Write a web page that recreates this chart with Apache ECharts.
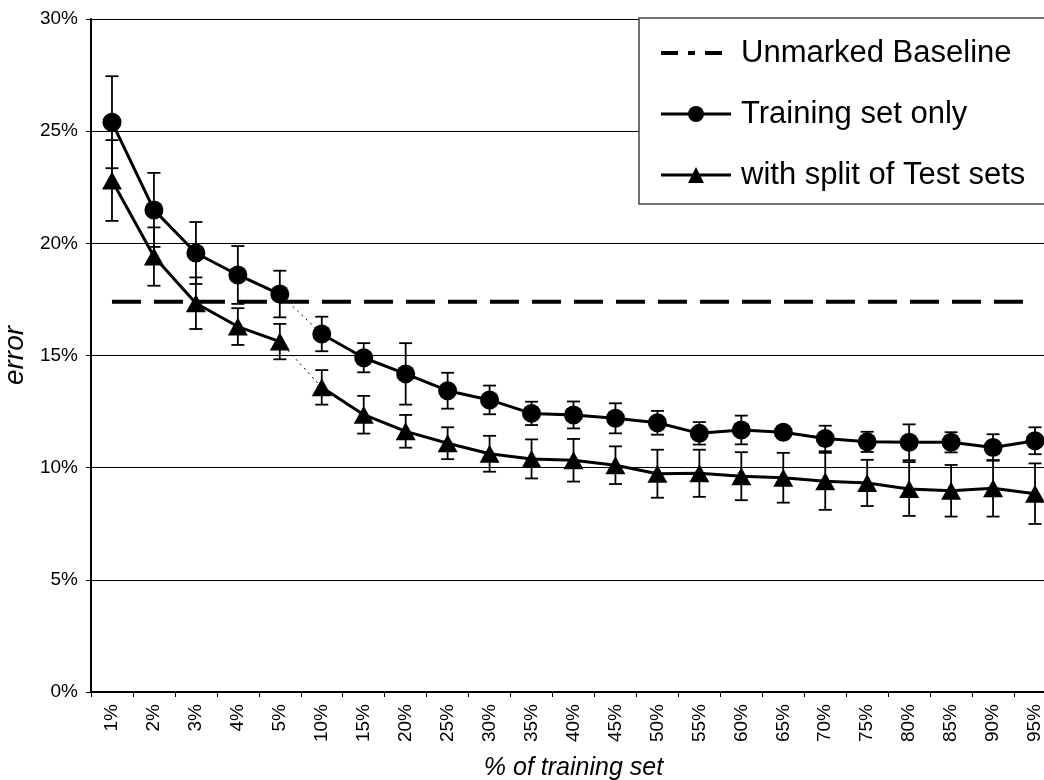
<!DOCTYPE html>
<html>
<head>
<meta charset="utf-8">
<script src="https://cdn.jsdelivr.net/npm/echarts@6/dist/echarts.min.js"></script>
<style>html,body{margin:0;padding:0;background:#fff}#c{width:1044px;height:780px}</style>
</head>
<body>
<div id="c"></div>
<script>
var categories = ['1%','2%','3%','4%','5%','10%','15%','20%','25%','30%','35%','40%','45%','50%','55%','60%','65%','70%','75%','80%','85%','90%','95%'];
var baseline = 17.4;
var trainingOnly = [25.4,21.49,19.57,18.59,17.74,15.96,14.9,14.18,13.43,13.02,12.42,12.35,12.2,12.0,11.53,11.68,11.58,11.3,11.15,11.13,11.13,10.9,11.2];
var trainingErr  = [2.05,1.65,1.38,1.29,1.04,0.77,0.65,1.37,0.8,0.64,0.52,0.6,0.67,0.53,0.5,0.64,0.2,0.57,0.45,0.8,0.45,0.59,0.6];
var withSplit    = [22.8,19.41,17.33,16.29,15.62,13.58,12.36,11.62,11.09,10.62,10.39,10.33,10.11,9.73,9.75,9.62,9.55,9.39,9.32,9.05,8.97,9.08,8.84];
var withSplitErr = [1.8,1.3,1.15,0.82,0.79,0.77,0.84,0.73,0.71,0.8,0.87,0.95,0.84,1.07,1.05,1.07,1.11,1.27,1.03,1.2,1.15,1.26,1.35];
var breakAfter = 4; // index of last point before the dotted break (5% -> 10%)

var FONT = '"Liberation Sans", Arial, Helvetica, sans-serif';

function part(arr, from, to) {
  return arr.map(function (v, i) { return (i >= from && i <= to) ? v : null; });
}
function errData(vals, errs) {
  return vals.map(function (v, i) { return [i, v - errs[i], v + errs[i]]; });
}
function errRender(params, api) {
  var x = api.value(0);
  var lo = api.coord([x, api.value(1)]);
  var hi = api.coord([x, api.value(2)]);
  var hw = 6.5;
  var st = { stroke: '#000', lineWidth: 1.8 };
  return {
    type: 'group',
    children: [
      { type: 'line', shape: { x1: lo[0], y1: lo[1], x2: hi[0], y2: hi[1] }, style: st },
      { type: 'line', shape: { x1: lo[0] - hw, y1: lo[1], x2: lo[0] + hw, y2: lo[1] }, style: st },
      { type: 'line', shape: { x1: hi[0] - hw, y1: hi[1], x2: hi[0] + hw, y2: hi[1] }, style: st }
    ]
  };
}

var n = categories.length;
var lineMain = { color: '#000', width: 3 };
var lineDot = { color: '#000', width: 1, type: [2, 4] };

var chart = echarts.init(document.getElementById('c'), null, { renderer: 'canvas' });
chart.setOption({
  animation: false,
  backgroundColor: '#fff',
  textStyle: { fontFamily: FONT },
  grid: { left: 91, top: 19, width: 965, height: 673, containLabel: false, outerBoundsMode: 'none' },
  xAxis: {
    type: 'category',
    data: categories,
    boundaryGap: true,
    name: '% of training set',
    nameLocation: 'middle',
    nameGap: 64,
    nameTextStyle: { fontSize: 25, fontStyle: 'italic', color: '#000', fontFamily: FONT },
    axisLine: { lineStyle: { color: '#000', width: 2 } },
    axisTick: { show: true, length: 5, interval: 0, lineStyle: { color: '#000', width: 1 } },
    axisLabel: { rotate: 90, interval: 0, fontSize: 19, color: '#000', margin: 12, fontFamily: FONT },
    splitLine: { show: false }
  },
  yAxis: {
    type: 'value',
    min: 0, max: 30, interval: 5,
    name: 'error',
    nameLocation: 'middle',
    nameGap: 58,
    nameRotate: 90,
    nameTextStyle: { fontSize: 28, fontStyle: 'italic', color: '#000', fontFamily: FONT },
    axisLine: { show: true, lineStyle: { color: '#000', width: 2 } },
    axisTick: { show: true, length: 5, lineStyle: { color: '#000', width: 1 } },
    axisLabel: { formatter: '{value}%', fontSize: 19, color: '#000', margin: 13, fontFamily: FONT },
    splitLine: { show: true, lineStyle: { color: '#000', width: 1.2 } }
  },
  graphic: [{
    type: 'rect', z: 3, silent: true,
    shape: { x: 639, y: 18, width: 430, height: 186 },
    style: { fill: '#fff', stroke: '#444', lineWidth: 1.5 }
  }],
  legend: {
    orient: 'vertical',
    left: 654, top: 31,
    z: 5,
    itemWidth: 70, itemHeight: 20,
    itemGap: 27,
    selectedMode: false,
    textStyle: { fontSize: 31, color: '#000', fontFamily: FONT, lineHeight: 34, padding: [0, 0, 0, 5] },
    data: [
      { name: 'Unmarked Baseline', itemStyle: { opacity: 0 }, lineStyle: { type: [17, 10, 7, 10], width: 4, color: '#000', opacity: 1 } },
      { name: 'Training set only', lineStyle: { width: 3, color: '#000' } },
      { name: 'with split of Test sets', lineStyle: { width: 3, color: '#000' } }
    ]
  },
  series: [
    {
      name: 'Unmarked Baseline', type: 'line', symbol: 'none', z: 2,
      data: categories.map(function () { return baseline; }),
      lineStyle: { color: '#000', width: 4, type: [29, 13] },
      itemStyle: { color: '#000' }
    },
    { type: 'line', symbol: 'none', connectNulls: false, data: part(trainingOnly, breakAfter, breakAfter + 1), lineStyle: lineDot, z: 1 },
    { type: 'line', symbol: 'none', connectNulls: false, data: part(withSplit, breakAfter, breakAfter + 1), lineStyle: lineDot, z: 1 },
    { type: 'custom', renderItem: errRender, data: errData(trainingOnly, trainingErr), encode: { x: 0, y: [1, 2] }, z: 2 },
    { type: 'custom', renderItem: errRender, data: errData(withSplit, withSplitErr), encode: { x: 0, y: [1, 2] }, z: 2 },
    {
      name: 'Training set only', type: 'line', symbol: 'circle', symbolSize: 19, z: 4,
      data: part(trainingOnly, 0, breakAfter), lineStyle: lineMain, itemStyle: { color: '#000' }
    },
    {
      name: 'Training set only', type: 'line', symbol: 'circle', symbolSize: 19, z: 4,
      data: part(trainingOnly, breakAfter + 1, n - 1), lineStyle: lineMain, itemStyle: { color: '#000' }
    },
    {
      name: 'with split of Test sets', type: 'line', symbol: 'triangle', symbolSize: [20, 18], z: 4,
      data: part(withSplit, 0, breakAfter), lineStyle: lineMain, itemStyle: { color: '#000' }
    },
    {
      name: 'with split of Test sets', type: 'line', symbol: 'triangle', symbolSize: [20, 18], z: 4,
      data: part(withSplit, breakAfter + 1, n - 1), lineStyle: lineMain, itemStyle: { color: '#000' }
    }
  ]
});
</script>
</body>
</html>
